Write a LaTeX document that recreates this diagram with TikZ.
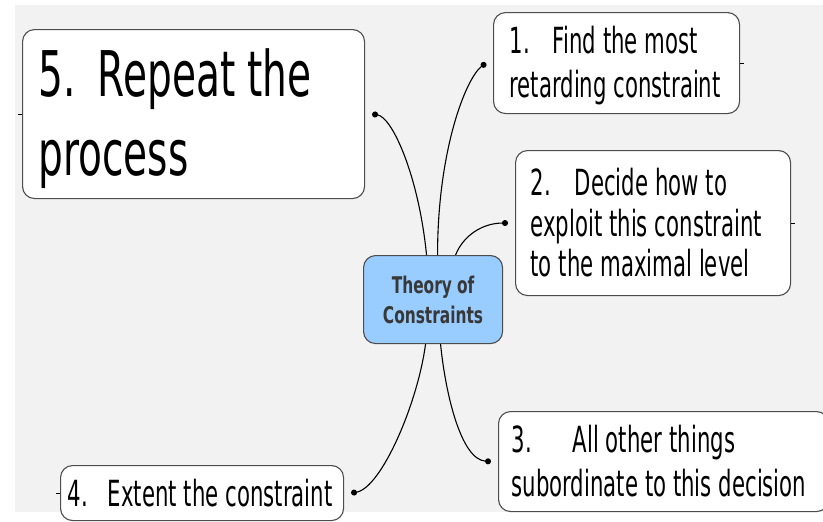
\documentclass[tikz,border=0pt]{standalone}
\usepackage{fontspec}
\setmainfont[FakeStretch=0.59]{DejaVu Sans}
\newfontfamily\bigfont[FakeStretch=0.62]{DejaVu Sans}
\newfontfamily\hubfont[FakeStretch=0.67]{DejaVu Sans}
\usetikzlibrary{arrows.meta}
\definecolor{boxline}{HTML}{4D4D4D}
\definecolor{hubblue}{HTML}{99CCFF}
\definecolor{hubtext}{HTML}{383838}
\definecolor{canvas}{HTML}{F2F2F2}

\begin{document}
\begin{tikzpicture}[x=1pt,y=-1pt,
    stepbox/.style={draw=boxline, line width=1.1pt, fill=white, rounded corners=12pt,
        anchor=north west, align=left, inner ysep=0pt,
        execute at begin node={\spaceskip=0.19em plus 0.1em\relax\hyphenpenalty=10000\relax}},
    hub/.style={draw=boxline, line width=1.1pt, fill=hubblue, rounded corners=12pt,
        anchor=north west, align=center, text width=129pt, inner xsep=5pt, inner ysep=0pt,
        minimum height=88pt, text=hubtext, font=\hubfont\bfseries\fontsize{23}{30}\selectfont,
        execute at begin node={\spaceskip=0.22em\relax}},
    link/.style={line width=1.1pt, -{Circle[length=6pt]}},
    stub/.style={line width=0.9pt}]

    % Background
    \useasboundingbox (0,0) rectangle (823,522);
    \fill[canvas] (15,5) rectangle (823,512);

    % Centre
    \node[hub] (toc) at (363,255) {Theory of\\Constraints};

    % The five steps
    \node[stepbox, text width=310pt, inner xsep=16pt, minimum height=169pt,
        font=\bigfont\fontsize{63}{79}\selectfont] (repeat) at (22,29)
        {\rule{0pt}{58pt}5.\hspace{22pt}Repeat the\\process};
    \node[stepbox, text width=214pt, inner xsep=16pt, minimum height=101pt,
        font=\fontsize{36}{44}\selectfont] (find) at (493,12)
        {\rule{0pt}{32pt}1.\hspace{23pt}Find the most\\retarding constraint};
    \node[stepbox, text width=245pt, inner xsep=15pt, minimum height=145pt,
        font=\fontsize{36}{40.5}\selectfont] (exploit) at (515,150)
        {2.\hspace{24pt}Decide how to\\exploit this constraint\\to the maximal level};
    \node[stepbox, text width=304pt, inner xsep=13pt, minimum height=100pt,
        font=\fontsize{36}{44}\selectfont] (subordinate) at (498,411)
        {3.\hspace{41pt}All other things\\subordinate to this decision};
    \node[stepbox, text width=269pt, inner xsep=7pt, minimum height=55pt,
        font=\fontsize{36}{44}\selectfont] (extend) at (60,465)
        {4.\hspace{20pt}Extent the constraint};

    % Branches
    \draw[link] ([xshift=-6.5pt]toc.north) .. controls +(-8,-80) and +(20,3) .. ([xshift=7pt]repeat.east);
    \draw[link] ([xshift=4.5pt]toc.north) .. controls +(0,-105) and +(-20,15) .. ([xshift=-7pt]find.west);
    \draw[link] ([xshift=22.5pt]toc.north) .. controls +(8,-20) and +(-25,0) .. ([xshift=-7pt]exploit.west);
    \draw[link] ([xshift=7.5pt]toc.south) .. controls +(5,50) and +(-30,-2) .. ([xshift=-7pt]subordinate.west);
    \draw[link] ([xshift=-7.5pt]toc.south) .. controls +(-8,60) and +(30,-5) .. ([xshift=7pt]extend.east);

    % Folded stubs
    \foreach \n/\a/\d in {repeat/west/-4, find/east/4, exploit/east/4, extend/west/-4} {
        \draw[stub] (\n.\a) -- ++(\d,0);
    }
\end{tikzpicture}
\end{document}
